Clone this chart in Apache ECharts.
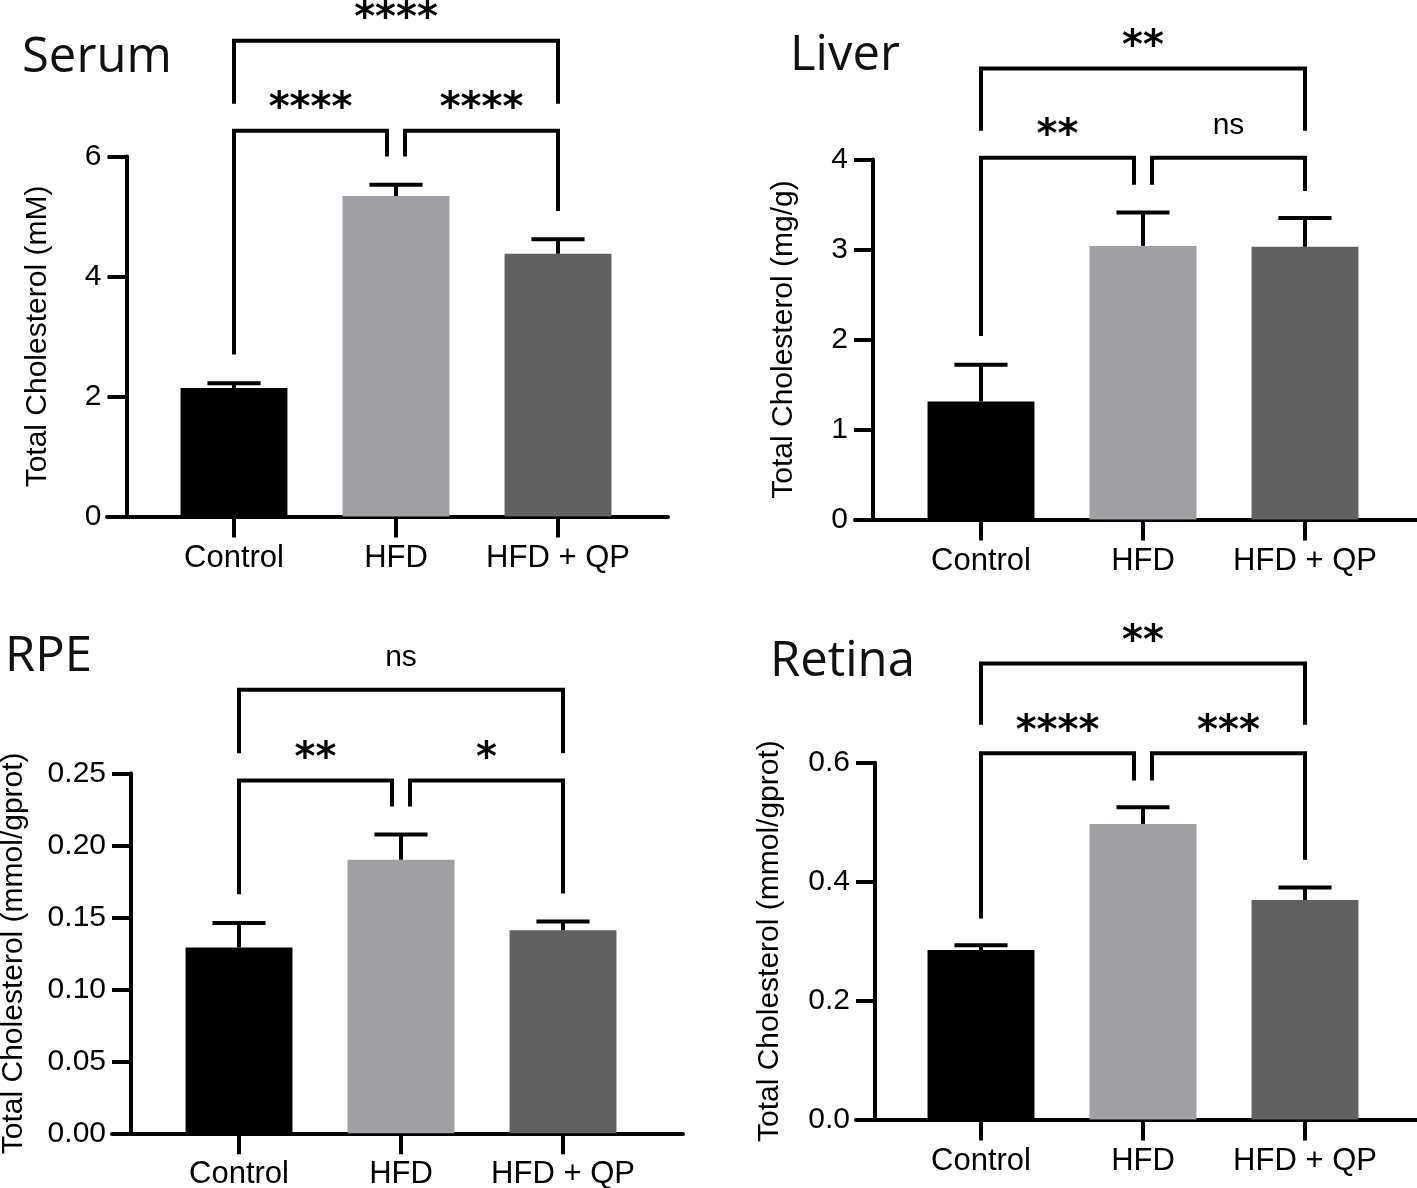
<!DOCTYPE html>
<html>
<head>
<meta charset="utf-8">
<script src="https://cdn.jsdelivr.net/npm/echarts@6/dist/echarts.min.js"></script>
<style>
  html, body { margin: 0; padding: 0; background: #fff; }
  #chart { width: 1417px; height: 1188px; }
</style>
</head>
<body>
<div id="chart"></div>
<script>
// ---- data ----
const categories = ['Control', 'HFD', 'HFD + QP'];
const barColors = ['#000000', '#a09fa4', '#616161'];

const serumMean = [2.14, 5.34, 4.38];
const serumUpper = [2.22, 5.53, 4.62];
const liverMean = [1.31, 3.04, 3.03];
const liverUpper = [1.72, 3.41, 3.35];
const rpeMean = [0.129, 0.190, 0.141];
const rpeUpper = [0.146, 0.2075, 0.147];
const retinaMean = [0.285, 0.497, 0.369];
const retinaUpper = [0.293, 0.525, 0.390];

// brackets: [from, to, level, left leg end, right leg end]
const serumBrackets = [[0, 2, 7.93, 6.88, 6.88], [0, 1, 6.43, 2.70, 6.0], [1, 2, 6.43, 6.0, 5.09]];
const serumLabels = ['****', '****', '****'];
const liverBrackets = [[0, 2, 5.01, 4.32, 4.32], [0, 1, 4.02, 2.04, 3.72], [1, 2, 4.02, 3.72, 3.65]];
const liverLabels = ['**', '**', 'ns'];
const rpeBrackets = [[0, 2, 0.308, 0.264, 0.264], [0, 1, 0.245, 0.166, 0.227], [1, 2, 0.245, 0.227, 0.1665]];
const rpeLabels = ['ns', '**', '*'];
const retinaBrackets = [[0, 2, 0.767, 0.664, 0.664], [0, 1, 0.616, 0.338, 0.570], [1, 2, 0.616, 0.570, 0.437]];
const retinaLabels = ['**', '****', '***'];

const serumTicks = { max: 6, interval: 2, digits: 0 };
const liverTicks = { max: 4, interval: 1, digits: 0 };
const rpeTicks = { max: 0.25, interval: 0.05, digits: 2 };
const retinaTicks = { max: 0.6, interval: 0.2, digits: 1 };

// ---- layout (pixels) ----
const panels = [
  { title: 'Serum', yName: 'Total Cholesterol (mM)', ticks: serumTicks,
    mean: serumMean, upper: serumUpper, brackets: serumBrackets, labels: serumLabels,
    left: 153, top: 156.5, height: 360, axisX: 126.5, frame: [107, 668], nameGap: 74,
    titlePos: [22, 34] },
  { title: 'Liver', yName: 'Total Cholesterol (mg/g)', ticks: liverTicks,
    mean: liverMean, upper: liverUpper, brackets: liverBrackets, labels: liverLabels,
    left: 900, top: 159.5, height: 360, axisX: 873, frame: [855, 1417], nameGap: 74,
    titlePos: [790, 32] },
  { title: 'RPE', yName: 'Total Cholesterol (mmol/gprot)', ticks: rpeTicks,
    mean: rpeMean, upper: rpeUpper, brackets: rpeBrackets, labels: rpeLabels,
    left: 158, top: 773.3, height: 360, axisX: 131, frame: [112, 683], nameGap: 102,
    titlePos: [5, 633] },
  { title: 'Retina', yName: 'Total Cholesterol (mmol/gprot)', ticks: retinaTicks,
    mean: retinaMean, upper: retinaUpper, brackets: retinaBrackets, labels: retinaLabels,
    left: 900, top: 762.7, height: 356.8, axisX: 875, frame: [856, 1417], nameGap: 90,
    titlePos: [770, 638] }
];

const BAND = 162;
const LW = 4;

function makeErrorRender() {
  return function (params, api) {
    const idx = api.value(0);
    const base = api.coord([idx, api.value(1)]);
    const top = api.coord([idx, api.value(2)]);
    const half = api.size([1, 0])[0] * 0.164;
    const st = { stroke: '#000', lineWidth: LW };
    return {
      type: 'group',
      children: [
        { type: 'line', shape: { x1: top[0], y1: base[1], x2: top[0], y2: top[1] }, style: st },
        { type: 'line', shape: { x1: top[0] - half, y1: top[1], x2: top[0] + half, y2: top[1] }, style: st }
      ]
    };
  };
}

function makeBracketRender(labels) {
  return function (params, api) {
    const i = api.value(0), j = api.value(1);
    const lvl = api.value(2);
    const dxI = i === 1 ? 9 : 0;
    const dxJ = j === 1 ? -9 : 0;
    const xa = api.coord([i, lvl])[0] + dxI;
    const xb = api.coord([j, lvl])[0] + dxJ;
    const yl = api.coord([i, lvl])[1];
    const ya = api.coord([i, api.value(3)])[1];
    const yb = api.coord([j, api.value(4)])[1];
    const text = labels[params.dataIndex];
    const star = text.indexOf('*') >= 0;
    return {
      type: 'group',
      children: [
        { type: 'polyline',
          shape: { points: [[xa, ya], [xa, yl], [xb, yl], [xb, yb]] },
          style: { stroke: '#000', lineWidth: LW, fill: null, lineJoin: 'miter', lineCap: 'butt' } },
        { type: 'text',
          style: {
            text: text, x: (xa + xb) / 2, y: yl - (star ? 21 : 32),
            align: 'center', verticalAlign: 'middle',
            fontFamily: star ? 'DejaVu Sans' : 'Liberation Sans',
            fontWeight: star ? 'bold' : 'normal',
            fontSize: star ? 40 : 30, fill: '#000'
          } }
      ]
    };
  };
}

const grid = [], xAxis = [], yAxis = [], series = [], title = [];

panels.forEach((p, k) => {
  const g = grid.length;
  // plot grid, bars sit in a 3-band category axis
  grid.push({ left: p.left, top: p.top, width: BAND * 3, height: p.height, outerBoundsMode: 'none', containLabel: false });
  xAxis.push({
    type: 'category', gridIndex: g, data: categories, boundaryGap: true,
    axisLine: { show: false },
    axisTick: { show: true, alignWithLabel: true, interval: 0, length: 21, lineStyle: { color: '#000', width: LW } },
    axisLabel: { interval: 0, hideOverlap: false, fontSize: 31, color: '#000', margin: 26, fontFamily: 'Liberation Sans' },
    splitLine: { show: false }
  });
  yAxis.push({
    type: 'value', gridIndex: g, min: 0, max: p.ticks.max, interval: p.ticks.interval,
    offset: p.left - p.axisX,
    axisLine: { show: true, lineStyle: { color: '#000', width: LW } },
    axisTick: { show: true, length: 19, lineStyle: { color: '#000', width: LW } },
    axisLabel: { fontSize: 30, color: '#000', margin: 25, fontFamily: 'Liberation Sans',
      formatter: v => v.toFixed(p.ticks.digits) },
    splitLine: { show: false },
    name: p.yName, nameLocation: 'middle', nameGap: p.nameGap,
    nameTextStyle: { fontSize: 30, color: '#000', fontFamily: 'Liberation Sans' }
  });

  series.push({
    type: 'bar', xAxisIndex: g, yAxisIndex: g, barWidth: '66%',
    data: p.mean.map((v, i) => ({ value: v, itemStyle: { color: barColors[i] } })),
    silent: true, z: 2
  });
  series.push({
    type: 'custom', xAxisIndex: g, yAxisIndex: g, z: 3, silent: true,
    renderItem: makeErrorRender(),
    data: p.mean.map((v, i) => [i, v, p.upper[i]])
  });
  series.push({
    type: 'custom', xAxisIndex: g, yAxisIndex: g, z: 4, silent: true, clip: false,
    renderItem: makeBracketRender(p.labels),
    data: p.brackets
  });

  // frame grid: only the long x axis line
  const f = grid.length;
  grid.push({ left: p.frame[0], top: p.top, width: p.frame[1] - p.frame[0], height: p.height, outerBoundsMode: 'none', containLabel: false });
  xAxis.push({
    type: 'value', gridIndex: f, min: 0, max: 1,
    axisLine: { show: true, onZero: false, lineStyle: { color: '#000', width: LW } },
    axisTick: { show: false }, axisLabel: { show: false }, splitLine: { show: false }
  });
  yAxis.push({ type: 'value', gridIndex: f, show: false, min: 0, max: 1 });

  title.push({
    text: p.title, left: p.titlePos[0], top: p.titlePos[1], padding: 0,
    textStyle: { fontFamily: 'Open Sans', fontSize: 49, fontWeight: 'normal', color: '#111' }
  });
});

const chart = echarts.init(document.getElementById('chart'), null, { renderer: 'canvas' });
chart.setOption({
  backgroundColor: '#fff',
  animation: false,
  textStyle: { fontFamily: 'Liberation Sans' },
  title: title,
  grid: grid,
  xAxis: xAxis,
  yAxis: yAxis,
  series: series
});
window.addEventListener('resize', () => chart.resize());
</script>
</body>
</html>
